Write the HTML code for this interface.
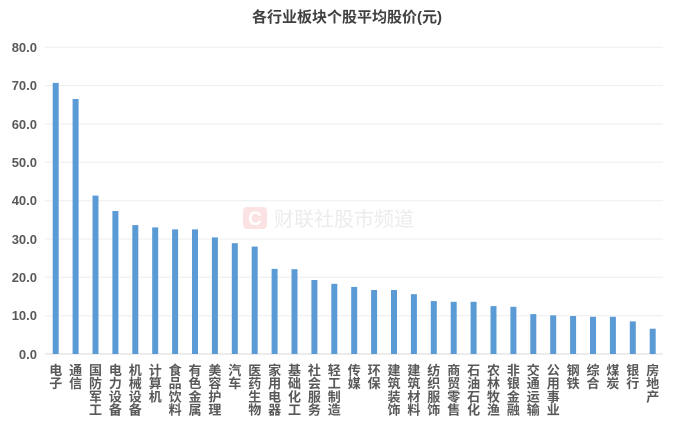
<!DOCTYPE html>
<html><head><meta charset="utf-8"><style>
html,body{margin:0;padding:0;background:#fff;}
svg{display:block;}
</style></head><body>
<svg width="692" height="422" xmlns="http://www.w3.org/2000/svg" font-family="'Liberation Sans','Noto Sans CJK SC',sans-serif">
<rect width="692" height="422" fill="#fff"/>
<text x="347" y="22" text-anchor="middle" font-size="15" font-weight="bold" fill="#404040">各行业板块个股平均股价(元)</text>
<g stroke="#eeeeee" stroke-width="1">
<line x1="45" x2="663" y1="47.3" y2="47.3"/><line x1="45" x2="663" y1="85.6" y2="85.6"/>
<line x1="45" x2="663" y1="124" y2="124"/><line x1="45" x2="663" y1="162.3" y2="162.3"/>
<line x1="45" x2="663" y1="200.7" y2="200.7"/><line x1="45" x2="663" y1="239" y2="239"/>
<line x1="45" x2="663" y1="277.3" y2="277.3"/><line x1="45" x2="663" y1="315.7" y2="315.7"/>
</g>
<line x1="45" x2="663" y1="354" y2="354" stroke="#d9d9d9"/>
<g font-size="13" font-weight="bold" fill="#595959" text-anchor="end">
<text x="37" y="52">80.0</text><text x="37" y="90">70.0</text><text x="37" y="129">60.0</text>
<text x="37" y="167">50.0</text><text x="37" y="205">40.0</text><text x="37" y="244">30.0</text>
<text x="37" y="282">20.0</text><text x="37" y="320">10.0</text><text x="37" y="359">0.0</text>
</g>
<rect x="243" y="207" width="24" height="22" rx="4" fill="#fbe3e3"/>
<text x="255" y="225" text-anchor="middle" font-size="19" font-weight="bold" fill="#fff">C</text>
<text x="274" y="226" font-size="20" fill="#ececec">财联社股市频道</text>
<g fill="#5b9bd5">
<rect x="52.7" y="82.9" width="6" height="271.1"/>
<rect x="72.6" y="99" width="6" height="255"/>
<rect x="92.5" y="195.6" width="6" height="158.4"/>
<rect x="112.4" y="211" width="6" height="143"/>
<rect x="132.3" y="225.1" width="6" height="128.9"/>
<rect x="152.2" y="227.4" width="6" height="126.6"/>
<rect x="172.1" y="229.4" width="6" height="124.6"/>
<rect x="192" y="229.4" width="6" height="124.6"/>
<rect x="211.9" y="237.4" width="6" height="116.6"/>
<rect x="231.8" y="243.2" width="6" height="110.8"/>
<rect x="251.7" y="246.6" width="6" height="107.4"/>
<rect x="271.6" y="268.9" width="6" height="85.1"/>
<rect x="291.5" y="269.2" width="6" height="84.8"/>
<rect x="311.4" y="280" width="6" height="74"/>
<rect x="331.3" y="283.8" width="6" height="70.2"/>
<rect x="351.2" y="286.9" width="6" height="67.1"/>
<rect x="371.1" y="290" width="6" height="64"/>
<rect x="391" y="290" width="6" height="64"/>
<rect x="410.9" y="294.2" width="6" height="59.8"/>
<rect x="430.8" y="301.1" width="6" height="52.9"/>
<rect x="450.7" y="301.8" width="6" height="52.2"/>
<rect x="470.6" y="301.8" width="6" height="52.2"/>
<rect x="490.5" y="306.1" width="6" height="47.9"/>
<rect x="510.4" y="306.8" width="6" height="47.2"/>
<rect x="530.3" y="314.1" width="6" height="39.9"/>
<rect x="550.2" y="315.3" width="6" height="38.7"/>
<rect x="570.1" y="316" width="6" height="38"/>
<rect x="590" y="316.8" width="6" height="37.2"/>
<rect x="609.9" y="316.8" width="6" height="37.2"/>
<rect x="629.8" y="321.4" width="6" height="32.6"/>
<rect x="649.7" y="328.7" width="6" height="25.3"/>
</g>
<g font-size="13" font-weight="bold" fill="#595959" text-anchor="middle">
<text x="55.7" y="375"><tspan x="55.7">电</tspan><tspan x="55.7" dy="13.2">子</tspan></text>
<text x="75.6" y="375"><tspan x="75.6">通</tspan><tspan x="75.6" dy="13.2">信</tspan></text>
<text y="375"><tspan x="95.5">国</tspan><tspan x="95.5" dy="13.2">防</tspan><tspan x="95.5" dy="13.2">军</tspan><tspan x="95.5" dy="13.2">工</tspan></text>
<text y="375"><tspan x="115.4">电</tspan><tspan x="115.4" dy="13.2">力</tspan><tspan x="115.4" dy="13.2">设</tspan><tspan x="115.4" dy="13.2">备</tspan></text>
<text y="375"><tspan x="135.3">机</tspan><tspan x="135.3" dy="13.2">械</tspan><tspan x="135.3" dy="13.2">设</tspan><tspan x="135.3" dy="13.2">备</tspan></text>
<text y="375"><tspan x="155.2">计</tspan><tspan x="155.2" dy="13.2">算</tspan><tspan x="155.2" dy="13.2">机</tspan></text>
<text y="375"><tspan x="175.1">食</tspan><tspan x="175.1" dy="13.2">品</tspan><tspan x="175.1" dy="13.2">饮</tspan><tspan x="175.1" dy="13.2">料</tspan></text>
<text y="375"><tspan x="195">有</tspan><tspan x="195" dy="13.2">色</tspan><tspan x="195" dy="13.2">金</tspan><tspan x="195" dy="13.2">属</tspan></text>
<text y="375"><tspan x="214.9">美</tspan><tspan x="214.9" dy="13.2">容</tspan><tspan x="214.9" dy="13.2">护</tspan><tspan x="214.9" dy="13.2">理</tspan></text>
<text y="375"><tspan x="234.8">汽</tspan><tspan x="234.8" dy="13.2">车</tspan></text>
<text y="375"><tspan x="254.7">医</tspan><tspan x="254.7" dy="13.2">药</tspan><tspan x="254.7" dy="13.2">生</tspan><tspan x="254.7" dy="13.2">物</tspan></text>
<text y="375"><tspan x="274.6">家</tspan><tspan x="274.6" dy="13.2">用</tspan><tspan x="274.6" dy="13.2">电</tspan><tspan x="274.6" dy="13.2">器</tspan></text>
<text y="375"><tspan x="294.5">基</tspan><tspan x="294.5" dy="13.2">础</tspan><tspan x="294.5" dy="13.2">化</tspan><tspan x="294.5" dy="13.2">工</tspan></text>
<text y="375"><tspan x="314.4">社</tspan><tspan x="314.4" dy="13.2">会</tspan><tspan x="314.4" dy="13.2">服</tspan><tspan x="314.4" dy="13.2">务</tspan></text>
<text y="375"><tspan x="334.3">轻</tspan><tspan x="334.3" dy="13.2">工</tspan><tspan x="334.3" dy="13.2">制</tspan><tspan x="334.3" dy="13.2">造</tspan></text>
<text y="375"><tspan x="354.2">传</tspan><tspan x="354.2" dy="13.2">媒</tspan></text>
<text y="375"><tspan x="374.1">环</tspan><tspan x="374.1" dy="13.2">保</tspan></text>
<text y="375"><tspan x="394">建</tspan><tspan x="394" dy="13.2">筑</tspan><tspan x="394" dy="13.2">装</tspan><tspan x="394" dy="13.2">饰</tspan></text>
<text y="375"><tspan x="413.9">建</tspan><tspan x="413.9" dy="13.2">筑</tspan><tspan x="413.9" dy="13.2">材</tspan><tspan x="413.9" dy="13.2">料</tspan></text>
<text y="375"><tspan x="433.8">纺</tspan><tspan x="433.8" dy="13.2">织</tspan><tspan x="433.8" dy="13.2">服</tspan><tspan x="433.8" dy="13.2">饰</tspan></text>
<text y="375"><tspan x="453.7">商</tspan><tspan x="453.7" dy="13.2">贸</tspan><tspan x="453.7" dy="13.2">零</tspan><tspan x="453.7" dy="13.2">售</tspan></text>
<text y="375"><tspan x="473.6">石</tspan><tspan x="473.6" dy="13.2">油</tspan><tspan x="473.6" dy="13.2">石</tspan><tspan x="473.6" dy="13.2">化</tspan></text>
<text y="375"><tspan x="493.5">农</tspan><tspan x="493.5" dy="13.2">林</tspan><tspan x="493.5" dy="13.2">牧</tspan><tspan x="493.5" dy="13.2">渔</tspan></text>
<text y="375"><tspan x="513.4">非</tspan><tspan x="513.4" dy="13.2">银</tspan><tspan x="513.4" dy="13.2">金</tspan><tspan x="513.4" dy="13.2">融</tspan></text>
<text y="375"><tspan x="533.3">交</tspan><tspan x="533.3" dy="13.2">通</tspan><tspan x="533.3" dy="13.2">运</tspan><tspan x="533.3" dy="13.2">输</tspan></text>
<text y="375"><tspan x="553.2">公</tspan><tspan x="553.2" dy="13.2">用</tspan><tspan x="553.2" dy="13.2">事</tspan><tspan x="553.2" dy="13.2">业</tspan></text>
<text y="375"><tspan x="573.1">钢</tspan><tspan x="573.1" dy="13.2">铁</tspan></text>
<text y="375"><tspan x="593">综</tspan><tspan x="593" dy="13.2">合</tspan></text>
<text y="375"><tspan x="612.9">煤</tspan><tspan x="612.9" dy="13.2">炭</tspan></text>
<text y="375"><tspan x="632.8">银</tspan><tspan x="632.8" dy="13.2">行</tspan></text>
<text y="375"><tspan x="652.7">房</tspan><tspan x="652.7" dy="13.2">地</tspan><tspan x="652.7" dy="13.2">产</tspan></text>
</g>
</svg>
</body></html>
